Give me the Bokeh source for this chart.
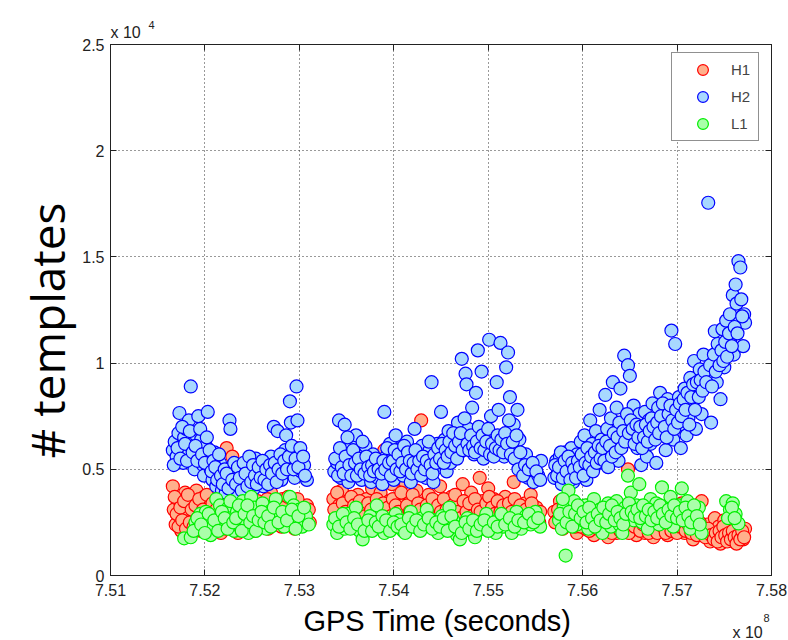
from bokeh.plotting import figure
from bokeh.models import (Range1d, LinearAxis, FixedTicker, CustomJSTickFormatter,
                          Legend, LegendItem, Label)
from bokeh.embed import file_html
from bokeh.resources import INLINE

# GPS time in units of 1e8 s, template counts as plain numbers
h1_time = [
    7.5166, 7.5167, 7.5169, 7.5171, 7.5173, 7.5175, 7.5177, 7.5179, 7.5181, 7.5183,
    7.5185, 7.5187, 7.5189, 7.5191, 7.5193, 7.5195, 7.5197, 7.5199, 7.5201, 7.5203,
    7.5205, 7.5207, 7.5209, 7.5211, 7.5213, 7.5215, 7.5217, 7.5219, 7.5221, 7.5223,
    7.5225, 7.5227, 7.5229, 7.5231, 7.5233, 7.5235, 7.5237, 7.5239, 7.5241, 7.5244,
    7.5247, 7.5250, 7.5253, 7.5256, 7.5258, 7.5261, 7.5264, 7.5267, 7.5270, 7.5273,
    7.5276, 7.5279, 7.5282, 7.5285, 7.5287, 7.5289, 7.5292, 7.5295, 7.5297, 7.5299,
    7.5302, 7.5305, 7.5308, 7.5311,
    7.5336, 7.5339, 7.5342, 7.5345, 7.5348, 7.5351, 7.5354, 7.5357, 7.5359, 7.5362,
    7.5365, 7.5368, 7.5371, 7.5374, 7.5377, 7.5380, 7.5383, 7.5386, 7.5388, 7.5390,
    7.5392, 7.5395, 7.5398, 7.5400, 7.5403, 7.5406, 7.5409, 7.5412, 7.5415, 7.5418,
    7.5421, 7.5424, 7.5427, 7.5429, 7.5431, 7.5434, 7.5437, 7.5440, 7.5443, 7.5446,
    7.5449, 7.5452, 7.5455, 7.5458, 7.5461, 7.5464, 7.5467, 7.5470, 7.5473, 7.5476,
    7.5479, 7.5482, 7.5485, 7.5488, 7.5491, 7.5494, 7.5497, 7.5500, 7.5503, 7.5506,
    7.5509, 7.5512, 7.5515, 7.5518, 7.5521, 7.5524, 7.5527, 7.5530, 7.5533, 7.5536,
    7.5539, 7.5542, 7.5545, 7.5548, 7.5551, 7.5554,
    7.5570, 7.5573, 7.5576, 7.5579, 7.5582, 7.5585, 7.5588, 7.5591, 7.5594, 7.5597,
    7.5600, 7.5603, 7.5606, 7.5609, 7.5612, 7.5615, 7.5618, 7.5621, 7.5624, 7.5627,
    7.5630, 7.5633, 7.5636, 7.5639, 7.5642, 7.5645, 7.5648, 7.5651, 7.5654, 7.5657,
    7.5660, 7.5663, 7.5666, 7.5669, 7.5672, 7.5675, 7.5678, 7.5681, 7.5684, 7.5687,
    7.5690, 7.5693, 7.5696, 7.5699, 7.5702, 7.5705, 7.5708, 7.5711, 7.5714, 7.5717,
    7.5720, 7.5723, 7.5726, 7.5729, 7.5732, 7.5735, 7.5738, 7.5740, 7.5742, 7.5744,
    7.5746, 7.5748, 7.5750, 7.5752, 7.5754, 7.5756, 7.5758, 7.5760, 7.5762, 7.5764,
    7.5766, 7.5768, 7.5770, 7.5772,
]
h1_templates = [
    4200, 3100, 2400, 3600, 2800, 2100, 3300, 3900, 2600, 3000,
    2200, 3500, 2700, 4000, 3200, 2400, 2900, 3700, 2100, 3400,
    2600, 3000, 2300, 3800, 2800, 3300, 2000, 3600, 2500, 6000,
    3100, 2200, 5600, 2700, 3400, 2000, 2900, 3700, 2300, 3200,
    2600, 3000, 2100, 3500, 2400, 2800, 3300, 2200, 3900, 2700,
    3100, 2400, 3600, 2900, 5500, 2600, 3400, 2200, 6000, 3000,
    5400, 2700, 3300, 2500,
    3600, 2900, 3300, 4000, 2600, 3500, 3000, 5550, 2700, 3800,
    3200, 2500, 3600, 2900, 4100, 3300, 2700, 3900, 3100, 5900,
    2600, 3500, 4300, 3000, 2800, 3700, 3300, 4400, 2900, 3600,
    3200, 4000, 2700, 7300, 3400, 3000, 3800, 2800, 3500, 3100,
    4200, 2700, 3300, 2900, 3700, 3000, 2600, 3400, 4300, 3100,
    2800, 3900, 3300, 2700, 4600, 3500, 3000, 4100, 2800, 3600,
    3200, 2600, 3000, 3700, 2500, 3300, 4400, 2700, 3100, 2400,
    3400, 2900, 3800, 2600, 3200, 2500,
    3000, 2600, 3500, 2200, 2900, 3300, 2400, 2800, 2000, 3100,
    2500, 2200, 3300, 2700, 1900, 2400, 3000, 2100, 2600, 1800,
    2300, 2900, 2000, 2500, 2200, 3200, 5000, 2400, 2700, 1900,
    2300, 2600, 2000, 2900, 2200, 1800, 2500, 3300, 2100, 2700,
    1900, 2400, 3000, 2200, 2600, 3400, 2000, 2800, 2300, 1700,
    2500, 2100, 3500, 1900, 2400, 1600, 2200, 2700, 1800, 2300,
    1500, 2000, 2600, 1700, 2200, 1900, 2400, 1600, 2100, 1800,
    2300, 2000, 1700, 2200,
]
# second pass of H1 triggers filling the dense band
h1_time_b = [
    7.5168, 7.5170, 7.5172, 7.5174, 7.5176, 7.5178, 7.5180, 7.5182, 7.5184, 7.5186,
    7.5188, 7.5190, 7.5192, 7.5194, 7.5196, 7.5198, 7.5200, 7.5202, 7.5204, 7.5206,
    7.5208, 7.5210, 7.5212, 7.5214, 7.5216, 7.5218, 7.5220, 7.5222, 7.5224, 7.5226,
    7.5228, 7.5230, 7.5232, 7.5234, 7.5236, 7.5238, 7.5240, 7.5242, 7.5245, 7.5248,
    7.5251, 7.5254, 7.5257, 7.5260, 7.5263, 7.5266, 7.5269, 7.5272, 7.5275, 7.5278,
    7.5281, 7.5284, 7.5288, 7.5291, 7.5294, 7.5298, 7.5301, 7.5304, 7.5307, 7.5310,
    7.5337, 7.5340, 7.5343, 7.5346, 7.5349, 7.5352, 7.5355, 7.5358, 7.5361, 7.5364,
    7.5367, 7.5370, 7.5373, 7.5376, 7.5379, 7.5382, 7.5385, 7.5389, 7.5391, 7.5394,
    7.5397, 7.5399, 7.5402, 7.5405, 7.5408, 7.5411, 7.5414, 7.5417, 7.5420, 7.5423,
    7.5426, 7.5428, 7.5432, 7.5435, 7.5438, 7.5441, 7.5444, 7.5447, 7.5450, 7.5453,
    7.5456, 7.5459, 7.5462, 7.5465, 7.5468, 7.5471, 7.5474, 7.5477, 7.5480, 7.5483,
    7.5486, 7.5489, 7.5492, 7.5495, 7.5498, 7.5501, 7.5504, 7.5507, 7.5510, 7.5513,
    7.5516, 7.5519, 7.5522, 7.5525, 7.5528, 7.5531, 7.5534, 7.5537, 7.5540, 7.5543,
    7.5546, 7.5549, 7.5552, 7.5555,
    7.5571, 7.5574, 7.5577, 7.5580, 7.5583, 7.5586, 7.5589, 7.5592, 7.5595, 7.5598,
    7.5601, 7.5604, 7.5607, 7.5610, 7.5613, 7.5616, 7.5619, 7.5622, 7.5625, 7.5628,
    7.5631, 7.5634, 7.5637, 7.5640, 7.5643, 7.5646, 7.5649, 7.5652, 7.5655, 7.5658,
    7.5661, 7.5664, 7.5667, 7.5670, 7.5673, 7.5676, 7.5679, 7.5682, 7.5685, 7.5688,
    7.5691, 7.5694, 7.5697, 7.5700, 7.5703, 7.5706, 7.5709, 7.5712, 7.5715, 7.5718,
    7.5721, 7.5724, 7.5727, 7.5730, 7.5733, 7.5736, 7.5739, 7.5741, 7.5743, 7.5745,
    7.5747, 7.5749, 7.5751, 7.5753, 7.5755, 7.5757, 7.5759, 7.5761, 7.5763, 7.5765,
    7.5767, 7.5769, 7.5771,
]
h1_templates_b = [
    3700, 2900, 2300, 3200, 2600, 3500, 2200, 3800, 2500, 3100,
    2300, 3300, 2700, 3600, 2100, 3100, 2500, 3800, 2800, 2200,
    3400, 2700, 3100, 2400, 3600, 2900, 3300, 2200, 3800, 2600,
    3000, 2400, 3300, 2800, 2300, 3100, 2600, 3500, 2200, 2900,
    3400, 2700, 3100, 2300, 2900, 3600, 2500, 3300, 2800, 3500,
    2300, 3200, 3700, 2800, 3100, 3600, 2400, 3000, 2600, 3100,
    3100, 3900, 2700, 3400, 3000, 2800, 3700, 3300, 2900, 3500,
    3000, 2800, 3400, 3100, 2600, 3600, 3000, 3400, 2900, 3200,
    2800, 3600, 3300, 3000, 3900, 2700, 3300, 3000, 3800, 2900,
    3400, 3100, 2700, 3300, 3000, 3600, 2700, 3300, 3000, 3600,
    3100, 2700, 3300, 3800, 3000, 2700, 3500, 3000, 3400, 2800,
    3600, 3100, 3000, 2600, 3400, 3700, 3200, 2900, 3500, 3000,
    3300, 2800, 3400, 3000, 3600, 2900, 3300, 2800, 3100, 2600,
    3400, 2900, 2700, 3000,
    2500, 3100, 2700, 3300, 2500, 2900, 3100, 2300, 2700, 2300,
    2900, 2600, 2100, 2500, 2900, 2200, 2700, 2400, 2100, 2700,
    2000, 2400, 2800, 2100, 2600, 2300, 2000, 2800, 2300, 2600,
    2100, 2400, 2700, 2000, 2500, 2200, 2000, 2600, 2300, 2000,
    2600, 2100, 2400, 2000, 2300, 2600, 2100, 2400, 2000, 2300,
    1900, 2500, 2100, 1800, 2200, 1900, 1700, 2000, 1600, 2100,
    1800, 2300, 1900, 1600, 2000, 1700, 2100, 1800, 1500, 1900,
    1700, 2100, 1800,
]

h2_time = [
    7.5166, 7.5168, 7.5170, 7.5172, 7.5173, 7.5175, 7.5177, 7.5178, 7.5180, 7.5182,
    7.5183, 7.5185, 7.5186, 7.5188, 7.5189, 7.5191, 7.5193, 7.5194, 7.5196, 7.5198,
    7.5199, 7.5201, 7.5203, 7.5204, 7.5206, 7.5208, 7.5210, 7.5212, 7.5214, 7.5216,
    7.5218, 7.5220, 7.5222, 7.5224, 7.5226, 7.5227, 7.5228, 7.5230, 7.5232, 7.5234,
    7.5236, 7.5238, 7.5240, 7.5242, 7.5244, 7.5246, 7.5248, 7.5250, 7.5252, 7.5254,
    7.5256, 7.5258, 7.5260, 7.5262, 7.5264, 7.5266, 7.5268, 7.5270, 7.5272, 7.5273,
    7.5275, 7.5277, 7.5279, 7.5281, 7.5283, 7.5285, 7.5286, 7.5288, 7.5290, 7.5291,
    7.5293, 7.5295, 7.5297, 7.5298, 7.5300, 7.5302, 7.5305, 7.5308,
    7.5337, 7.5340, 7.5342, 7.5344, 7.5346, 7.5348, 7.5350, 7.5352, 7.5354, 7.5356,
    7.5358, 7.5360, 7.5362, 7.5364, 7.5366, 7.5368, 7.5370, 7.5372, 7.5374, 7.5376,
    7.5378, 7.5380, 7.5383, 7.5386, 7.5388, 7.5390, 7.5392, 7.5394, 7.5396, 7.5398,
    7.5400, 7.5402, 7.5404, 7.5406, 7.5408, 7.5410, 7.5412, 7.5414, 7.5416, 7.5418,
    7.5420, 7.5422, 7.5424, 7.5426, 7.5428, 7.5430, 7.5432, 7.5434, 7.5436, 7.5438,
    7.5440, 7.5442, 7.5444, 7.5446, 7.5448, 7.5450, 7.5452, 7.5454, 7.5456, 7.5458,
    7.5460, 7.5462, 7.5464, 7.5466, 7.5468, 7.5470, 7.5472, 7.5474, 7.5476, 7.5477,
    7.5479, 7.5481, 7.5483, 7.5485, 7.5487, 7.5489, 7.5491, 7.5493, 7.5495, 7.5497,
    7.5499, 7.5501, 7.5503, 7.5505, 7.5507, 7.5509, 7.5511, 7.5513, 7.5515, 7.5517,
    7.5519, 7.5521, 7.5523, 7.5525, 7.5527, 7.5529, 7.5531, 7.5533, 7.5535, 7.5538,
    7.5540, 7.5542, 7.5545, 7.5548, 7.5550, 7.5553, 7.5556,
    7.5570, 7.5572, 7.5574, 7.5576, 7.5578, 7.5580, 7.5582, 7.5584, 7.5586, 7.5588,
    7.5590, 7.5592, 7.5594, 7.5596, 7.5598, 7.5600, 7.5602, 7.5604, 7.5606, 7.5608,
    7.5610, 7.5612, 7.5614, 7.5616, 7.5618, 7.5620, 7.5622, 7.5624, 7.5626, 7.5628,
    7.5630, 7.5632, 7.5634, 7.5636, 7.5638, 7.5640, 7.5642, 7.5644, 7.5646, 7.5648,
    7.5650, 7.5652, 7.5654, 7.5656, 7.5658, 7.5660, 7.5662, 7.5664, 7.5666, 7.5668,
    7.5670, 7.5672, 7.5674, 7.5676, 7.5678, 7.5680, 7.5682, 7.5684, 7.5686, 7.5688,
    7.5690, 7.5692, 7.5694, 7.5696, 7.5698, 7.5700, 7.5702, 7.5704, 7.5706, 7.5708,
    7.5710, 7.5712, 7.5714, 7.5716, 7.5718, 7.5720, 7.5722, 7.5724, 7.5726, 7.5728,
    7.5730, 7.5733, 7.5734, 7.5736, 7.5738, 7.5740, 7.5742, 7.5744, 7.5746, 7.5748,
    7.5750, 7.5752, 7.5754, 7.5756, 7.5757, 7.5759, 7.5760, 7.5762, 7.5763, 7.5765,
    7.5766, 7.5767, 7.5768, 7.5770, 7.5771, 7.5772,
]
h2_templates = [
    5900, 6300, 5600, 6700, 7650, 6100, 5300, 6500, 6900, 5800,
    7300, 8900, 6200, 5500, 5000, 6600, 7500, 5900, 6400, 5200,
    4700, 6100, 7700, 5600, 5000, 4500, 5800, 4200, 4800, 5300,
    4000, 4600, 3900, 4300, 7300, 6900, 5100, 4100, 4700, 3700,
    4400, 5000, 4200, 3900, 4600, 5200, 4500, 4900, 4100, 5500,
    4700, 4400, 5000, 4200, 4800, 5300, 4600, 5600, 5000, 7000,
    4700, 6800, 5400, 4500, 5100, 5900, 6600, 4900, 8200, 7200,
    5300, 4600, 8900, 7300, 5700, 4900, 5200, 4500,
    4900, 5300, 7300, 4600, 5800, 7100, 5000, 4400, 6200, 5500,
    4800, 6600, 5100, 5900, 4500, 5400, 6100, 4900, 5300, 4400,
    5700, 5000, 4600, 5200, 4300, 7700, 5600, 4900, 6200, 5800,
    4500, 6600, 5400, 5100, 6000, 4700, 5500, 6300, 5000, 4400,
    5800, 6900, 5200, 4800, 5600, 6100, 5300, 4600, 5000, 5900,
    9100, 4400, 5500, 6200, 5100, 7700, 5700, 6400, 4900, 6800,
    5300, 6000, 5600, 6500, 7200, 5800, 10200, 6300, 9500, 9000,
    6900, 6100, 7900, 5700, 8600, 10600, 6400, 9600, 5500, 6800,
    6000, 11100, 7500, 5800, 6500, 9100, 7800, 10950, 6200, 5600,
    9800, 10500, 8400, 6900, 7100, 5900, 7800, 6400, 5300, 4900,
    5700, 4600, 5200, 4400, 5000, 4700, 5400,
    4600, 5400, 4900, 5600, 4300, 5100, 5800, 4700, 5300, 6000,
    4400, 5200, 5700, 4800, 6300, 5000, 6600, 4500, 5500, 7300,
    6200, 5100, 6800, 5800, 7800, 6400, 5300, 8500, 6900, 5700,
    7400, 9100, 6100, 7900, 5400, 8800, 6600, 10350, 7200, 9900,
    9400, 6400, 8000, 7000, 6000, 7600, 5200, 6800, 7700, 5600,
    7300, 6200, 8100, 6600, 5300, 7900, 8600, 6900, 7500, 5900,
    8300, 7000, 11530, 6400, 10900, 7700, 8400, 6000, 7100, 8800,
    6600, 7400, 9300, 8000, 10100, 6900, 8600, 9700, 7600, 10400,
    8900, 17550, 9500, 7200, 10000, 11500, 9100, 10300, 8300, 11600,
    9800, 12000, 10700, 12300, 11200, 13200, 10400, 13700, 12800, 14800,
    11900, 14500, 13000, 10800, 12300, 11900,
]
# second pass of H2 triggers filling the dense band
h2_time_b = [
    7.5167, 7.5171, 7.5174, 7.5176, 7.5179, 7.5181, 7.5184, 7.5187, 7.5190, 7.5192,
    7.5195, 7.5197, 7.5200, 7.5202, 7.5205, 7.5207, 7.5209, 7.5211, 7.5213, 7.5215,
    7.5217, 7.5219, 7.5221, 7.5223, 7.5225, 7.5229, 7.5231, 7.5233, 7.5235, 7.5237,
    7.5239, 7.5241, 7.5243, 7.5245, 7.5247, 7.5249, 7.5251, 7.5253, 7.5255, 7.5257,
    7.5259, 7.5261, 7.5263, 7.5265, 7.5267, 7.5269, 7.5271, 7.5274, 7.5276, 7.5278,
    7.5280, 7.5282, 7.5284, 7.5287, 7.5289, 7.5292, 7.5294, 7.5296, 7.5299, 7.5301,
    7.5304, 7.5306,
    7.5338, 7.5341, 7.5343, 7.5345, 7.5347, 7.5349, 7.5351, 7.5353, 7.5355, 7.5357,
    7.5359, 7.5361, 7.5363, 7.5365, 7.5367, 7.5369, 7.5371, 7.5373, 7.5375, 7.5377,
    7.5379, 7.5381, 7.5384, 7.5387, 7.5389, 7.5391, 7.5393, 7.5395, 7.5397, 7.5399,
    7.5401, 7.5403, 7.5405, 7.5407, 7.5409, 7.5411, 7.5413, 7.5415, 7.5417, 7.5419,
    7.5421, 7.5423, 7.5425, 7.5427, 7.5429, 7.5431, 7.5433, 7.5435, 7.5437, 7.5439,
    7.5441, 7.5443, 7.5445, 7.5447, 7.5449, 7.5451, 7.5453, 7.5455, 7.5457, 7.5459,
    7.5461, 7.5463, 7.5465, 7.5467, 7.5469, 7.5471, 7.5473, 7.5475, 7.5478, 7.5480,
    7.5482, 7.5484, 7.5486, 7.5488, 7.5490, 7.5492, 7.5494, 7.5496, 7.5498, 7.5500,
    7.5502, 7.5504, 7.5506, 7.5508, 7.5510, 7.5512, 7.5514, 7.5516, 7.5518, 7.5520,
    7.5522, 7.5524, 7.5526, 7.5528, 7.5530, 7.5532, 7.5534, 7.5537, 7.5539, 7.5543,
    7.5547, 7.5551, 7.5555,
    7.5571, 7.5573, 7.5575, 7.5577, 7.5579, 7.5581, 7.5583, 7.5585, 7.5587, 7.5589,
    7.5591, 7.5593, 7.5595, 7.5597, 7.5599, 7.5601, 7.5603, 7.5605, 7.5607, 7.5609,
    7.5611, 7.5613, 7.5615, 7.5617, 7.5619, 7.5621, 7.5623, 7.5625, 7.5627, 7.5629,
    7.5631, 7.5633, 7.5635, 7.5637, 7.5639, 7.5641, 7.5643, 7.5645, 7.5647, 7.5649,
    7.5651, 7.5653, 7.5655, 7.5657, 7.5659, 7.5661, 7.5663, 7.5665, 7.5667, 7.5669,
    7.5671, 7.5673, 7.5675, 7.5677, 7.5679, 7.5681, 7.5683, 7.5685, 7.5687, 7.5689,
    7.5691, 7.5693, 7.5695, 7.5697, 7.5699, 7.5701, 7.5703, 7.5705, 7.5707, 7.5709,
    7.5711, 7.5713, 7.5715, 7.5717, 7.5719, 7.5721, 7.5723, 7.5725, 7.5727, 7.5729,
    7.5731, 7.5735, 7.5737, 7.5739, 7.5741, 7.5743, 7.5745, 7.5747, 7.5749, 7.5751,
    7.5753, 7.5755, 7.5758, 7.5761, 7.5764, 7.5769,
]
h2_templates_b = [
    5200, 6000, 5500, 7000, 6200, 5400, 6800, 5800, 6100, 5400,
    6900, 5700, 5300, 6500, 5900, 4900, 5400, 5100, 4500, 5700,
    4700, 4300, 5000, 4800, 4100, 4500, 5300, 4300, 5100, 4600,
    4000, 5300, 4800, 4200, 5600, 4400, 5200, 4700, 4300, 5100,
    4600, 5400, 4500, 5000, 4300, 5200, 4800, 5300, 4400, 5000,
    5700, 4800, 5400, 5000, 5600, 6100, 5000, 5500, 5100, 6000,
    5600, 4700,
    5500, 4700, 6000, 5100, 4800, 5600, 6500, 5200, 4700, 5900,
    5300, 4700, 5500, 5000, 6300, 4800, 5600, 5100, 4700, 5200,
    4900, 5500, 5000, 4800, 5400, 5000, 6000, 5300, 4700, 5400,
    5900, 5000, 5700, 4900, 5300, 6100, 5000, 5800, 5400, 4800,
    5300, 5900, 5000, 5400, 4700, 5600, 5000, 5400, 6300, 5200,
    4800, 5700, 5300, 6000, 5500, 6200, 5300, 5900, 5600, 6300,
    5800, 6700, 6100, 5500, 6300, 6700, 5900, 7400, 6200, 5900,
    6600, 6100, 5800, 6300, 7000, 6000, 6600, 5900, 6300, 6900,
    5700, 6200, 5600, 6000, 6600, 5900, 6400, 5800, 6700, 6200,
    7300, 5700, 6300, 5500, 6600, 5000, 5800, 4700, 5200, 5000,
    5300, 4900, 4500,
    5200, 4700, 5100, 5800, 4600, 5400, 4900, 5600, 4500, 5300,
    5000, 4600, 5400, 5100, 5700, 4700, 5300, 6000, 5200, 5600,
    4900, 5800, 5300, 6100, 5500, 6000, 5400, 6300, 5100, 6100,
    5600, 6700, 5800, 6500, 7200, 6000, 6800, 6300, 7600, 6700,
    7300, 6900, 6200, 7100, 6500, 7000, 6000, 6500, 7100, 6300,
    6800, 7400, 7000, 6400, 7200, 6700, 7500, 8100, 7000, 6500,
    7600, 8000, 7300, 6900, 7800, 7200, 8100, 7500, 8300, 7800,
    8600, 7100, 8400, 9000, 7800, 9100, 8400, 9200, 8700, 9600,
    9100, 9900, 8900, 10400, 9600, 10900, 9900, 10600, 10100, 11000,
    10300, 11400, 10800, 11700, 11400, 12200,
]

l1_time = [
    7.5178, 7.5185, 7.5190, 7.5195, 7.5198, 7.5201, 7.5203, 7.5206, 7.5208, 7.5212,
    7.5216, 7.5219, 7.5222, 7.5225, 7.5228, 7.5231, 7.5234, 7.5237, 7.5240, 7.5243,
    7.5246, 7.5249, 7.5252, 7.5255, 7.5258, 7.5261, 7.5265, 7.5268, 7.5271, 7.5275,
    7.5280, 7.5284, 7.5290, 7.5294, 7.5297, 7.5300, 7.5303, 7.5307, 7.5310,
    7.5336, 7.5340, 7.5344, 7.5348, 7.5352, 7.5356, 7.5360, 7.5364, 7.5367, 7.5371,
    7.5375, 7.5379, 7.5382, 7.5386, 7.5390, 7.5394, 7.5398, 7.5402, 7.5406, 7.5410,
    7.5414, 7.5418, 7.5422, 7.5426, 7.5430, 7.5435, 7.5439, 7.5443, 7.5447, 7.5451,
    7.5455, 7.5459, 7.5463, 7.5467, 7.5470, 7.5474, 7.5478, 7.5482, 7.5486, 7.5490,
    7.5494, 7.5498, 7.5503, 7.5508, 7.5512, 7.5516, 7.5520, 7.5525, 7.5530, 7.5535,
    7.5540, 7.5545, 7.5550, 7.5555,
    7.5575, 7.5578, 7.5580, 7.5582, 7.5585, 7.5588, 7.5591, 7.5594, 7.5597, 7.5600,
    7.5603, 7.5606, 7.5609, 7.5612, 7.5615, 7.5618, 7.5621, 7.5624, 7.5627, 7.5630,
    7.5633, 7.5636, 7.5639, 7.5642, 7.5645, 7.5648, 7.5651, 7.5654, 7.5657, 7.5660,
    7.5663, 7.5666, 7.5669, 7.5672, 7.5675, 7.5678, 7.5681, 7.5684, 7.5687, 7.5690,
    7.5693, 7.5696, 7.5699, 7.5702, 7.5705, 7.5708, 7.5711, 7.5714, 7.5717, 7.5720,
    7.5723, 7.5726, 7.5752, 7.5756, 7.5759, 7.5762, 7.5765,
]
l1_templates = [
    1750, 1800, 2500, 2900, 2200, 3000, 2600, 1900, 2300, 3600,
    3300, 2800, 2400, 3200, 2700, 2100, 3000, 2300, 3500, 2600,
    2000, 3700, 3200, 2400, 2900, 3400, 2200, 3000, 2600, 3600,
    2800, 2300, 3700, 3300, 2600, 3100, 2300, 2800, 2400,
    2400, 2000, 2600, 2200, 2900, 2400, 3200, 2100, 1700, 2500,
    2800, 2300, 3300, 2600, 2000, 2400, 2200, 2900, 2600, 2100,
    2400, 3000, 2500, 2200, 2700, 3100, 2300, 2600, 2000, 2800,
    2400, 3200, 2600, 1900, 1700, 2300, 2700, 2100, 1800, 2500,
    2200, 2900, 2400, 2000, 2700, 2300, 2600, 2000, 3000, 2200,
    2800, 2400, 3000, 2300,
    2600, 2200, 3200, 940, 4000, 2800, 3500, 2400, 3000, 2600,
    3300, 2200, 2900, 3600, 2500, 3100, 2000, 2700, 3400, 2300,
    2900, 3500, 2400, 2000, 3200, 4700, 3900, 2600, 3300, 4300,
    2500, 3000, 2200, 3600, 2800, 3400, 2400, 4150, 3100, 2600,
    3700, 2300, 2900, 3300, 4100, 2700, 3500, 2200, 3000, 2500,
    3200, 2000, 3500, 3100, 3400, 2900, 2450,
]
# second pass of L1 triggers filling the dense band
l1_time_b = [
    7.5188, 7.5192, 7.5196, 7.5200, 7.5204, 7.5210, 7.5214, 7.5218, 7.5221, 7.5224,
    7.5227, 7.5230, 7.5233, 7.5236, 7.5239, 7.5242, 7.5245, 7.5248, 7.5251, 7.5254,
    7.5257, 7.5260, 7.5263, 7.5267, 7.5270, 7.5273, 7.5278, 7.5282, 7.5287, 7.5292,
    7.5296, 7.5299, 7.5305,
    7.5338, 7.5342, 7.5346, 7.5350, 7.5354, 7.5358, 7.5362, 7.5369, 7.5373, 7.5377,
    7.5381, 7.5384, 7.5388, 7.5392, 7.5396, 7.5400, 7.5404, 7.5408, 7.5412, 7.5416,
    7.5420, 7.5424, 7.5428, 7.5432, 7.5437, 7.5441, 7.5445, 7.5449, 7.5453, 7.5457,
    7.5461, 7.5465, 7.5472, 7.5476, 7.5480, 7.5484, 7.5488, 7.5492, 7.5496, 7.5500,
    7.5506, 7.5510, 7.5514, 7.5518, 7.5523, 7.5528, 7.5532, 7.5538, 7.5543, 7.5548,
    7.5553,
    7.5576, 7.5579, 7.5583, 7.5586, 7.5589, 7.5592, 7.5595, 7.5598, 7.5601, 7.5604,
    7.5607, 7.5610, 7.5613, 7.5616, 7.5619, 7.5622, 7.5625, 7.5628, 7.5631, 7.5634,
    7.5637, 7.5640, 7.5643, 7.5646, 7.5649, 7.5652, 7.5655, 7.5658, 7.5661, 7.5664,
    7.5667, 7.5670, 7.5673, 7.5676, 7.5679, 7.5682, 7.5685, 7.5688, 7.5691, 7.5694,
    7.5697, 7.5700, 7.5703, 7.5706, 7.5709, 7.5712, 7.5715, 7.5718, 7.5721, 7.5724,
    7.5754, 7.5758, 7.5761,
]
l1_templates_b = [
    2100, 2700, 2400, 2000, 2900, 2600, 2100, 3000, 2700, 2200,
    3500, 2500, 2700, 3300, 2100, 2900, 3300, 2500, 2800, 2100,
    2600, 3000, 2500, 2800, 2300, 3200, 2500, 3000, 2600, 3100,
    2200, 2800, 3200,
    2700, 2300, 2900, 2500, 2200, 2700, 2400, 2100, 2600, 2100,
    2500, 2300, 2800, 2600, 2100, 2500, 2300, 2400, 2000, 2700,
    2300, 2600, 2100, 2400, 2700, 2200, 2500, 2300, 2700, 2100,
    2800, 2300, 2000, 2500, 2200, 2600, 2100, 2400, 2600, 2100,
    2500, 2300, 2900, 2400, 2700, 2300, 2600, 2500, 2900, 2500,
    2700,
    2900, 3600, 2500, 3000, 2300, 2900, 3300, 2700, 3000, 2500,
    3200, 2700, 2300, 2900, 2600, 3200, 2500, 2900, 3300, 2600,
    3000, 2700, 2400, 2900, 3400, 3000, 2800, 3100, 2700, 3300,
    2800, 3100, 2600, 3000, 2700, 3300, 2900, 2500, 3100, 2800,
    3300, 2700, 3000, 2600, 3200, 2800, 2500, 3300, 2800, 2400,
    2700, 3200, 2700,
]

x_ticks = [7.51, 7.52, 7.53, 7.54, 7.55, 7.56, 7.57, 7.58]
y_ticks = [0, 5000, 10000, 15000, 20000, 25000]

FONT = "Liberation Sans"
INK = "#222222"

p = figure(width=788, height=640, output_backend="svg", toolbar_location=None,
           x_range=Range1d(7.51, 7.58), y_range=Range1d(0, 25000),
           min_border_left=110, min_border_right=17, min_border_top=44,
           min_border_bottom=65, background_fill_color="white",
           border_fill_color="white")
p.outline_line_color = INK
p.outline_line_width = 1

# grid: dotted black lines at every major tick
for g in (p.xgrid, p.ygrid):
    g.grid_line_color = "#000000"
    g.grid_line_dash = "1 3"
    g.grid_line_alpha = 0.8
p.xgrid.ticker = FixedTicker(ticks=x_ticks)
p.ygrid.ticker = FixedTicker(ticks=y_ticks)

x_fmt = CustomJSTickFormatter(code="return tick.toFixed(2);")
y_fmt = CustomJSTickFormatter(code="return String(Math.round(tick / 1000) / 10);")

xa = p.xaxis[0]
ya = p.yaxis[0]
for ax, tk, fmt in ((xa, x_ticks, x_fmt), (ya, y_ticks, y_fmt)):
    ax.ticker = FixedTicker(ticks=tk)
    ax.formatter = fmt
    ax.major_tick_in = 6
    ax.major_tick_out = 0
    ax.minor_tick_line_color = None
    ax.axis_line_color = INK
    ax.major_tick_line_color = INK
    ax.major_label_text_font = FONT
    ax.major_label_text_font_size = "16px"
    ax.major_label_text_color = INK
xa.major_label_standoff = 8
ya.major_label_standoff = 6

# box axes on top and right: inward ticks only
for side, tk in (("right", y_ticks), ("above", x_ticks)):
    ax = LinearAxis(ticker=FixedTicker(ticks=tk), major_tick_in=6, major_tick_out=0,
                    minor_tick_line_color=None, axis_line_color=INK,
                    major_tick_line_color=INK, major_label_text_color=None,
                    major_label_text_font_size="0px", major_label_standoff=0)
    p.add_layout(ax, side)

series = [
    ("H1", h1_time + h1_time_b, h1_templates + h1_templates_b, "#ff0000", "#ffb08c"),
    ("H2", h2_time + h2_time_b, h2_templates + h2_templates_b, "#0000ff", "#a8d8ff"),
    ("L1", l1_time + l1_time_b, l1_templates + l1_templates_b, "#00ee00", "#aaffaa"),
]
items = []
for name, xs, ys, line, fill in series:
    r = p.scatter(xs, ys, marker="circle", size=13, line_color=line, line_width=1.2,
                  fill_color=fill)
    items.append(LegendItem(label=name, renderers=[r]))

legend = Legend(items=items, location=(561, 434), border_line_color=INK,
                border_line_width=1, background_fill_color="white",
                background_fill_alpha=1, padding=3, spacing=0,
                glyph_width=55, glyph_height=27, label_height=27, label_width=24,
                label_standoff=1, label_text_font=FONT,
                label_text_font_size="15px", margin=0)
p.add_layout(legend, "center")


def canvas_label(text, x, y, size, font=FONT, angle=0, align="left",
                 baseline="alphabetic", color=INK):
    return Label(x=x, y=y, x_units="canvas", y_units="canvas", text=text,
                 angle=angle, angle_units="deg", text_font=font,
                 text_font_size=size, text_color=color, text_align=align,
                 text_baseline=baseline)


# axis titles and multipliers live in the side panels so they are not clipped
p.add_layout(canvas_label("# templates", 46, 330, "46px", font="Open Sans", angle=90,
                          align="center", baseline="middle", color="#000000"), "left")
p.add_layout(canvas_label("GPS Time (seconds)", 437, 620, "29px", align="center",
                          baseline="middle", color="#000000"), "below")
p.add_layout(canvas_label("x 10", 110, 32, "16px"), "above")
p.add_layout(canvas_label("x 10", 732, 632, "16px"), "above")
p.add_layout(canvas_label("4", 148, 24, "11px"), "right")
p.add_layout(canvas_label("8", 763, 617, "11px"), "right")

open("out.html", "w").write(file_html(p, INLINE))
